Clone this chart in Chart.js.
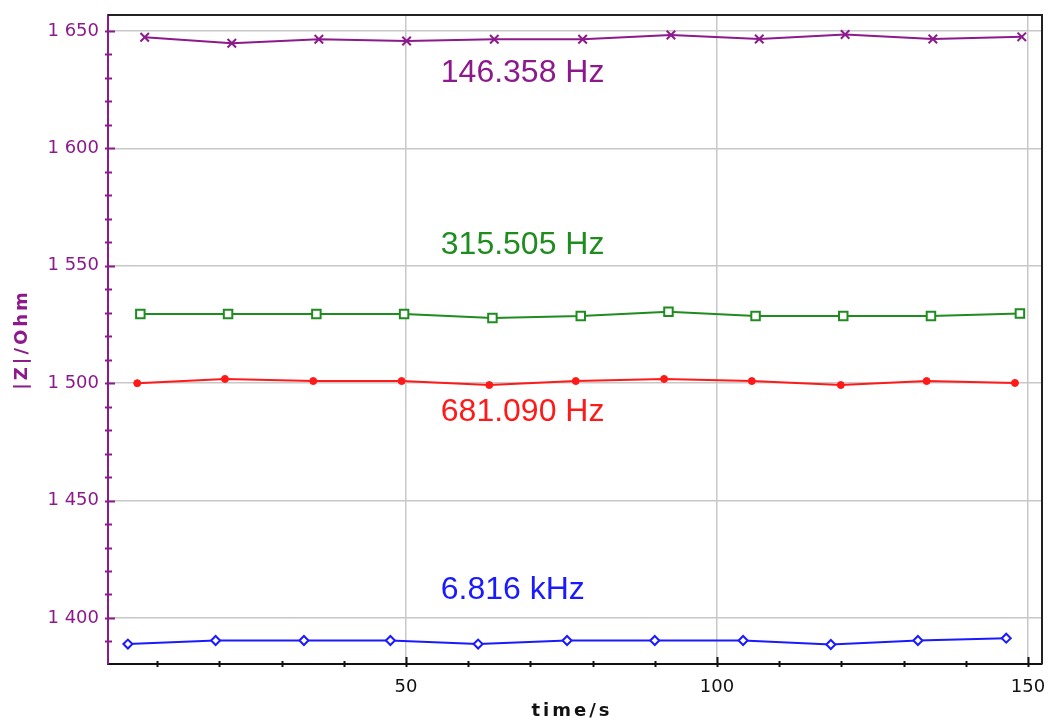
<!DOCTYPE html>
<html>
<head>
<meta charset="utf-8">
<script src="https://cdn.jsdelivr.net/npm/chart.js@4/dist/chart.umd.min.js"></script>
<style>
  html, body { margin: 0; padding: 0; background: #fff; }
  #wrap { width: 1051px; height: 720px; }
</style>
</head>
<body>
<div id="wrap"><canvas id="grafico" width="1051" height="720"></canvas></div>
<script>
// datos (tiempo en s, |Z| en Ohm)
const t146 = [8.0, 22.0, 36.0, 50.1, 64.2, 78.4, 92.6, 106.8, 120.6, 134.7, 149.0];
const z146 = [1647.3, 1644.8, 1646.5, 1645.7, 1646.5, 1646.5, 1648.3, 1646.6, 1648.5, 1646.6, 1647.5];

const t315 = [7.3, 21.4, 35.6, 49.7, 63.9, 78.1, 92.2, 106.2, 120.3, 134.4, 148.7];
const z315 = [1529.5, 1529.5, 1529.5, 1529.5, 1527.8, 1528.6, 1530.4, 1528.6, 1528.6, 1528.6, 1529.7];

const t681 = [6.8, 20.9, 35.1, 49.3, 63.4, 77.3, 91.5, 105.6, 119.9, 133.7, 147.9];
const z681 = [1500.0, 1501.8, 1500.9, 1500.9, 1499.2, 1500.9, 1501.8, 1500.9, 1499.2, 1500.9, 1500.1];

const t6816 = [5.3, 19.4, 33.6, 47.5, 61.6, 75.9, 90.0, 104.2, 118.3, 132.3, 146.5];
const z6816 = [1388.9, 1390.4, 1390.4, 1390.4, 1388.9, 1390.4, 1390.4, 1390.4, 1388.7, 1390.4, 1391.4];

const etiquetas = ['146.358 Hz', '315.505 Hz', '681.090 Hz', '6.816 kHz'];
const xTicks = [50, 100, 150];
const yTicks = [1400, 1450, 1500, 1550, 1600, 1650];
const tituloX = 'time/s';
const tituloY = '|Z|/Ohm';

const PURPURA = '#8c1a8c';
const VERDE = '#1f8c1f';
const ROJO = '#ff1a1a';
const AZUL = '#1a1aff';
const FUENTE = '"DejaVu Sans", Verdana, sans-serif';

function puntos(xs, ys) {
    return xs.map((x, i) => ({ x: x, y: ys[i] }));
}

// textos de frecuencia, en coordenadas de datos
const textos = [
    { txt: etiquetas[0], x: 55.6, y: 1632.1, color: PURPURA },
    { txt: etiquetas[1], x: 55.6, y: 1558.9, color: VERDE },
    { txt: etiquetas[2], x: 55.6, y: 1487.7, color: ROJO },
    { txt: etiquetas[3], x: 55.6, y: 1412.0, color: AZUL }
];

const marcos = {
    id: 'marcos',
    afterDatasetsDraw(chart) {
        const c = chart.ctx;
        const xs = chart.scales.x, ys = chart.scales.y;

        // textos
        c.save();
        c.font = '32px "Liberation Sans", Arial, sans-serif';
        c.textBaseline = 'middle';
        c.textAlign = 'left';
        textos.forEach(t => {
            c.fillStyle = t.color;
            c.fillText(t.txt, xs.getPixelForValue(t.x), ys.getPixelForValue(t.y));
        });
        c.restore();
    },
    afterDraw(chart) {
        const c = chart.ctx;
        const a = chart.chartArea;
        const xs = chart.scales.x, ys = chart.scales.y;
        c.save();
        // borde superior y derecho
        c.strokeStyle = '#222';
        c.lineWidth = 2;
        c.beginPath();
        c.moveTo(a.left, a.top);
        c.lineTo(a.right, a.top);
        c.lineTo(a.right, a.bottom);
        c.stroke();

        // marcas eje y
        c.strokeStyle = PURPURA;
        c.lineWidth = 2;
        ys.ticks.forEach(tk => {
            const py = Math.round(ys.getPixelForValue(tk.value)) + 0.5;
            const mayor = tk.value % 50 === 0;
            c.beginPath();
            c.moveTo(a.left - 3, py);
            c.lineTo(a.left + (mayor ? 7 : 4), py);
            c.stroke();
        });
        // marcas eje x
        c.strokeStyle = '#111';
        xs.ticks.forEach(tk => {
            const px = Math.round(xs.getPixelForValue(tk.value)) + 0.5;
            const mayor = tk.value % 50 === 0;
            c.beginPath();
            c.moveTo(px, a.bottom + 3);
            c.lineTo(px, a.bottom - (mayor ? 7 : 3));
            c.stroke();
        });

        // títulos de ejes (con espaciado de letras)
        c.font = 'bold 18px ' + FUENTE;
        c.letterSpacing = '3px';
        c.textAlign = 'center';
        c.textBaseline = 'middle';
        c.fillStyle = '#111';
        c.fillText(tituloX, (a.left + a.right) / 2 - 3, 711);
        c.translate(22, (a.top + a.bottom) / 2);
        c.rotate(-Math.PI / 2);
        c.fillStyle = PURPURA;
        c.fillText(tituloY, 0, 0);
        c.restore();
    }
};

const ctx = document.getElementById('grafico').getContext('2d');

new Chart(ctx, {
    type: 'scatter',
    data: {
        datasets: [
            {
                label: etiquetas[0],
                data: puntos(t146, z146),
                showLine: true,
                borderColor: PURPURA,
                backgroundColor: PURPURA,
                borderWidth: 2,
                pointStyle: 'crossRot',
                pointRadius: 6,
                pointBorderWidth: 2
            },
            {
                label: etiquetas[1],
                data: puntos(t315, z315),
                showLine: true,
                borderColor: VERDE,
                backgroundColor: '#ffffff',
                borderWidth: 2,
                pointStyle: 'rect',
                pointRadius: 6,
                pointBorderWidth: 2
            },
            {
                label: etiquetas[2],
                data: puntos(t681, z681),
                showLine: true,
                borderColor: ROJO,
                backgroundColor: ROJO,
                borderWidth: 2,
                pointStyle: 'circle',
                pointRadius: 3.5,
                pointBorderWidth: 1
            },
            {
                label: etiquetas[3],
                data: puntos(t6816, z6816),
                showLine: true,
                borderColor: AZUL,
                backgroundColor: '#ffffff',
                borderWidth: 2,
                pointStyle: 'rectRot',
                pointRadius: 4.5,
                pointBorderWidth: 2
            }
        ]
    },
    options: {
        responsive: false,
        animation: false,
        layout: { padding: { top: 15, right: 9, left: 0, bottom: 0 } },
        plugins: {
            legend: { display: false },
            tooltip: { enabled: false }
        },
        scales: {
            x: {
                type: 'linear',
                min: 2.1,
                max: 152.25,
                afterFit: s => {
                    s.height = 56;
                    s.paddingLeft = 0;
                    s.paddingRight = 0;
                },
                border: { color: '#111', width: 2 },
                grid: {
                    drawTicks: false,
                    lineWidth: 1.5,
                    color: c => (xTicks.includes(c.tick.value) ? '#c8c8c8' : 'rgba(0,0,0,0)')
                },
                ticks: {
                    stepSize: 10,
                    includeBounds: false,
                    autoSkip: false,
                    maxRotation: 0,
                    padding: 13,
                    color: '#111',
                    font: { family: FUENTE, size: 18 },
                    callback: v => (xTicks.includes(v) ? String(v) : '')
                }
            },
            y: {
                type: 'linear',
                min: 1380.4,
                max: 1656.8,
                afterFit: s => {
                    s.width = 108;
                    s.paddingTop = 0;
                    s.paddingBottom = 0;
                },
                border: { color: PURPURA, width: 2 },
                grid: {
                    drawTicks: false,
                    lineWidth: 1.5,
                    color: c => (yTicks.includes(c.tick.value) ? '#c8c8c8' : 'rgba(0,0,0,0)')
                },
                ticks: {
                    stepSize: 10,
                    includeBounds: false,
                    autoSkip: false,
                    padding: 9,
                    color: PURPURA,
                    font: { family: FUENTE, size: 18 },
                    callback: v => (yTicks.includes(v) ? String(v).replace(/\B(?=(\d{3})+$)/, ' ') : '')
                }
            }
        }
    },
    plugins: [marcos]
});
</script>
</body>
</html>
